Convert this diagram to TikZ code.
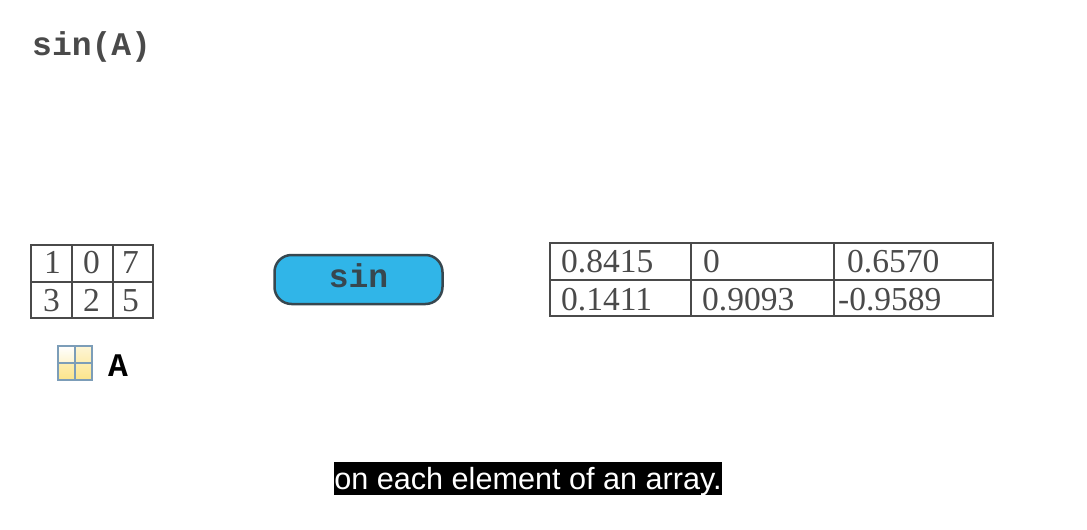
\documentclass[tikz,border=0pt]{standalone}
\usepackage{fontspec}
\setmainfont{Liberation Serif}
\setsansfont{Liberation Sans}
\setmonofont{Liberation Mono}
\definecolor{inkgray}{HTML}{4A4A4A}
\definecolor{pillblue}{HTML}{30B5E8}
\definecolor{pilledge}{HTML}{37474F}
\definecolor{iconedge}{HTML}{7C9DB8}
\definecolor{iconfill}{HTML}{FBE48A}
\tikzset{
  code/.style={font=\fontsize{33}{33}\selectfont\ttfamily\bfseries, text=#1},
  code/.default={inkgray},
  cell/.style={font=\fontsize{33.5}{33.5}\selectfont, text=inkgray, anchor=base west, inner sep=0pt},
  grid/.style={draw=inkgray, line width=1.5pt}
}

\begin{document}
\begin{tikzpicture}[x=1pt, y=-1pt]
\useasboundingbox (0,0) rectangle (1087,530);

\node[code, anchor=base west, inner sep=0pt] (title) at (32,55) {sin(A)};

% left array
\draw[grid] (31,245) rectangle (153,318);
\draw[grid] (72,245) -- (72,318);
\draw[grid] (113,245) -- (113,318);
\draw[grid] (31,282) -- (153,282);
\node[cell] (a1) at (44,273) {1};
\node[cell] (a2) at (83,273) {0};
\node[cell] (a3) at (122,273) {7};
\node[cell] (a4) at (43,311) {3};
\node[cell] (a5) at (83,311) {2};
\node[cell] (a6) at (122,311) {5};

% icon
\shade[top color=iconfill!35, bottom color=iconfill] (58,346) rectangle (92,380);
\shade[top color=white, bottom color=iconfill!40] (58,346) rectangle (75,363);
\draw[iconedge, line width=2.5pt] (58,346) rectangle (92,380);
\draw[iconedge, line width=2.5pt] (75,346) -- (75,380);
\draw[iconedge, line width=2.5pt] (58,363) -- (92,363);
\node[code={black}, anchor=base west, inner sep=0pt] (name) at (108,376) {A};

% function
\node[code={pilledge}, draw=pilledge, fill=pillblue, line width=2.5pt, rounded corners=17pt, minimum width=168pt, minimum height=49pt, inner sep=0pt, text depth=8pt] (func) at (358.5,279.5) {sin};

% result array
\draw[grid] (550,243) rectangle (993,316);
\draw[grid] (691,243) -- (691,316);
\draw[grid] (834,243) -- (834,316);
\draw[grid] (550,280) -- (993,280);
\node[cell] (b1) at (561,272) {0.8415};
\node[cell] (b2) at (703,272) {0};
\node[cell] (b3) at (847,272) {0.6570};
\node[cell] (b4) at (561,310) {0.1411};
\node[cell] (b5) at (702,310) {0.9093};
\node[cell] (b6) at (838,310) {-0.9589};

% caption
\node[fill=black, text=white, font=\fontsize{30.6}{30.6}\selectfont\sffamily, minimum width=388pt, minimum height=33pt, inner sep=0pt, text depth=0pt] (caption) at (528,478.5) {on each element of an array.};

\end{tikzpicture}
\end{document}
